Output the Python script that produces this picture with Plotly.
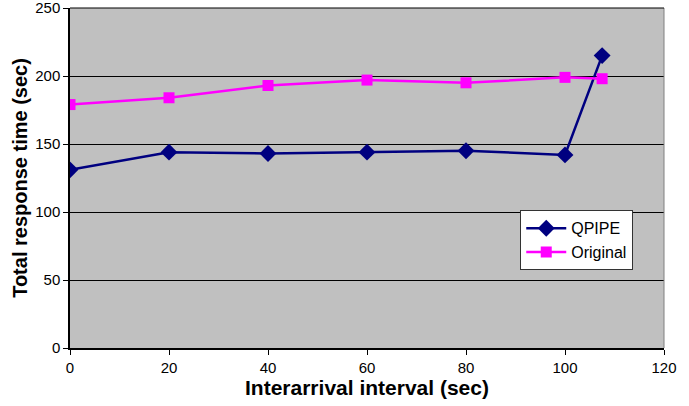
import plotly.graph_objects as go

x_vals = [0, 20, 40, 60, 80, 100, 107.5]
qpipe = [131, 144, 143, 144, 145, 142, 215]
original = [179, 184, 193, 197, 195, 199, 198]
x_ticks = [0, 20, 40, 60, 80, 100, 120]
y_ticks = [0, 50, 100, 150, 200, 250]

fig = go.Figure()
fig.add_trace(go.Scatter(x=x_vals, y=qpipe, name="QPIPE", mode="lines+markers",
                         line=dict(color="#000080", width=2.5),
                         marker=dict(symbol="diamond", size=13, color="#000080")))
fig.add_trace(go.Scatter(x=x_vals, y=original, name="Original", mode="lines+markers",
                         line=dict(color="#ff00ff", width=2.5),
                         marker=dict(symbol="square", size=11, color="#ff00ff")))

fig.update_layout(
    width=689, height=406,
    margin=dict(l=70, r=25, t=8, b=58, autoexpand=False),
    paper_bgcolor="white", plot_bgcolor="#c0c0c0",
    font=dict(family="Liberation Sans, Arial, sans-serif", color="black", size=13),
    legend=dict(x=0.758, y=0.405, xanchor="left", yanchor="top",
                bgcolor="white", bordercolor="#333333", borderwidth=1,
                font=dict(size=16), tracegroupgap=0, itemwidth=40),
    showlegend=True,
)
fig.update_xaxes(range=[0, 120], tickvals=x_ticks, showgrid=False, zeroline=False,
                 ticks="outside", ticklen=5, tickcolor="black", automargin=False,
                 tickfont=dict(size=15), ticklabeloverflow="allow",
                 showline=True, linecolor="black", linewidth=1.5,
                 title=dict(text="<b>Interarrival interval (sec)</b>", font=dict(size=21), standoff=4))
fig.update_yaxes(range=[0, 250], tickvals=y_ticks, showgrid=True, gridcolor="black", gridwidth=1,
                 zeroline=False, ticks="outside", ticklen=5, tickcolor="black", automargin=False,
                 tickfont=dict(size=15), ticklabeloverflow="allow",
                 showline=True, linecolor="black", linewidth=1.5,
                 title=dict(text="<b>Total response time (sec)</b>", font=dict(size=20), standoff=2))
fig.add_shape(type="line", xref="paper", yref="paper", x0=1, x1=1, y0=0, y1=1,
              line=dict(color="#808080", width=1))
fig.add_shape(type="line", xref="paper", yref="paper", x0=0, x1=1, y0=1, y1=1,
              line=dict(color="black", width=1))

fig.write_html("out.html", config={"displayModeBar": False},
               post_script="document.body.style.margin='0px';")
